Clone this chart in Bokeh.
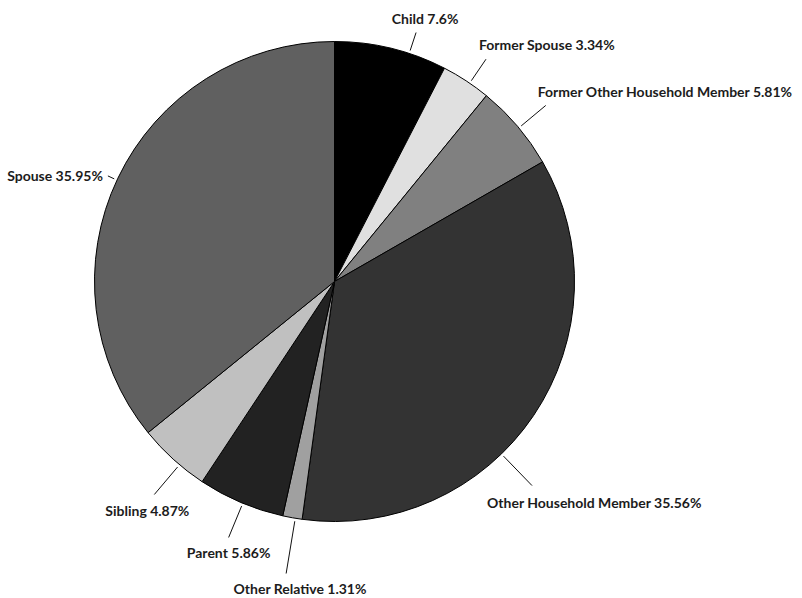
import math
from bokeh.plotting import figure
from bokeh.models import Range1d, ColumnDataSource
from bokeh.embed import file_html
from bokeh.resources import INLINE
from bokeh.core.properties import value

# ---- data ----
categories = ["Child", "Former Spouse", "Former Other Household Member",
              "Other Household Member", "Other Relative", "Parent",
              "Sibling", "Spouse"]
percents = [7.6, 3.34, 5.81, 35.56, 1.31, 5.86, 4.87, 35.95]
pct_labels = ["7.6%", "3.34%", "5.81%", "35.56%", "1.31%", "5.86%", "4.87%", "35.95%"]
colors = ["#000000", "#e0e0e0", "#808080", "#333333", "#a0a0a0",
          "#222222", "#c0c0c0", "#606060"]

# ---- layout (styling, not data) ----
W, H = 802, 598
CX, CY_SCREEN = 334, 281
R = 240
angle_nudge = [4.5, 1.0, 0.5, 12.0, -0.7, -0.5, -2.0, -0.5]
leader_len = [22, 29, 35, 44, 56, 37, 39, 10]
text_dx = [9, -7, -8, -45, 14, 0, -7, -5]
text_dy = [-6, -6, -5, 8, 6, 7, 7, 0]   # screen-down positive
text_align = ["center", "left", "left", "left", "center", "center", "center", "right"]
text_base = ["bottom", "bottom", "bottom", "top", "top", "top", "top", "middle"]

CY = H - CY_SCREEN
total = sum(percents)

p = figure(width=W, height=H, output_backend="svg", toolbar_location=None,
           x_range=Range1d(0, W), y_range=Range1d(0, H),
           min_border=0, outline_line_color=None)
p.axis.visible = False
p.grid.visible = False

starts, ends, mids = [], [], []
cum = 0.0
for v in percents:
    a0 = cum / total * 360.0
    cum += v
    a1 = cum / total * 360.0
    starts.append(math.radians(90 - a0))
    ends.append(math.radians(90 - a1))
    mids.append((a0 + a1) / 2)

src = ColumnDataSource(dict(start=starts, end=ends, color=colors,
                            x=[CX] * len(colors), y=[CY] * len(colors)))
p.wedge(x="x", y="y", radius=R, start_angle="start", end_angle="end",
        direction="clock", fill_color="color", line_color="#000000",
        line_width=1, source=src)

for i, cat in enumerate(categories):
    a = math.radians(mids[i] + angle_nudge[i])
    r0 = R + 3
    r1 = R + leader_len[i]
    x0, y0 = CX + r0 * math.sin(a), CY + r0 * math.cos(a)
    x1, y1 = CX + r1 * math.sin(a), CY + r1 * math.cos(a)
    p.line([x0, x1], [y0, y1], line_color="#111111", line_width=1)
    p.text(x=[x1 + text_dx[i]], y=[y1 - text_dy[i]],
           text=[f"{cat} {pct_labels[i]}"],
           text_align=text_align[i], text_baseline=text_base[i],
           text_font=value("Lato"),
           text_font_style="bold", text_font_size="14px",
           text_color="#1c1c1c")

open("out.html", "w").write(file_html(p, INLINE))
